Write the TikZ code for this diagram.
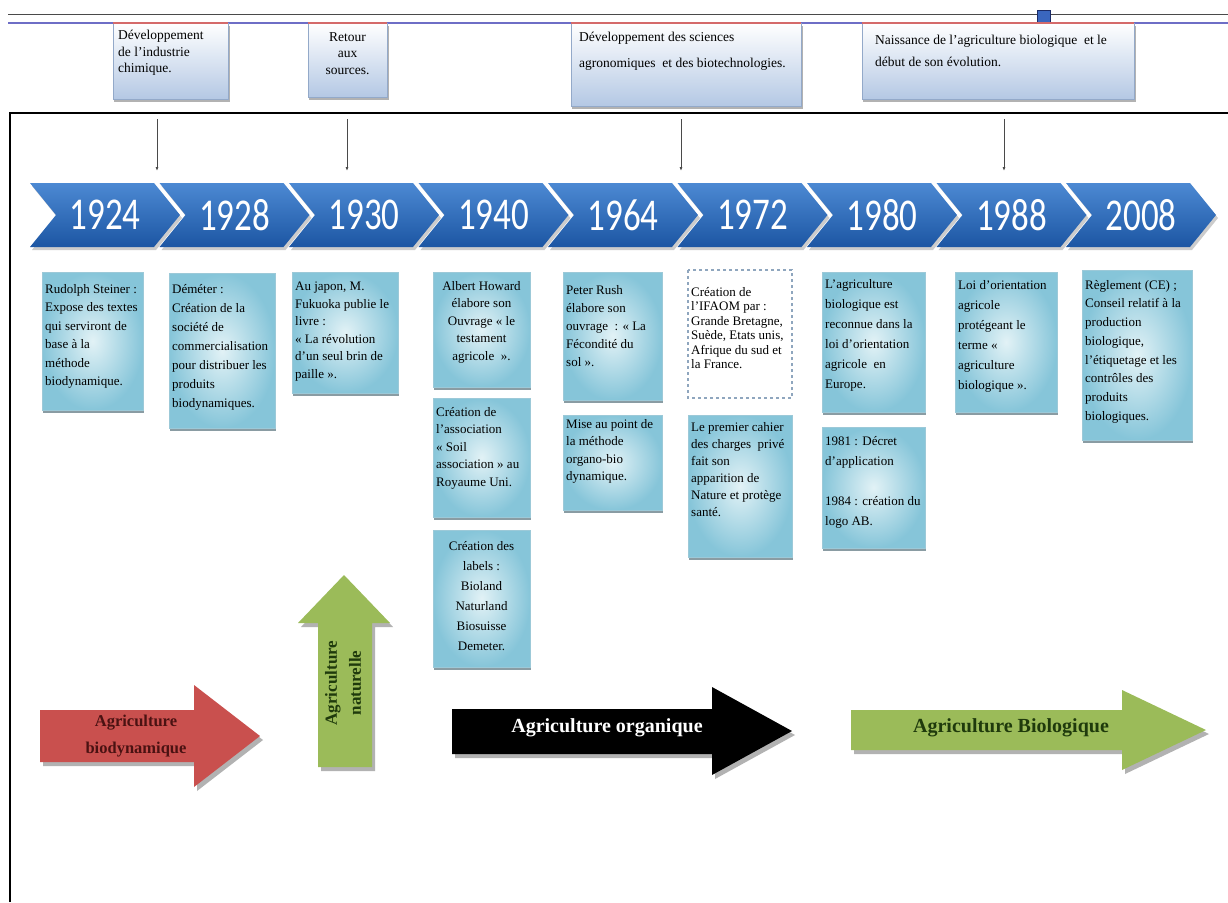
\documentclass[tikz,border=0pt]{standalone}
\usepackage{fontspec}
\usepackage{graphicx}
\setmainfont{Liberation Serif}
\newfontfamily\yearfont{Carlito}
\usetikzlibrary{arrows.meta}

\definecolor{chevtop}{HTML}{4C89D3}
\definecolor{chevbot}{HTML}{1C56A3}
\definecolor{boxin}{HTML}{E2F2F6}
\definecolor{boxout}{HTML}{86C5D9}
\definecolor{boxline}{HTML}{9CC9D8}
\definecolor{boxshadow}{HTML}{8A9CA3}
\definecolor{topbot}{HTML}{B4C8E4}
\definecolor{topline}{HTML}{93A9C9}
\definecolor{rulegray}{HTML}{4A4A4A}
\definecolor{ruleblue}{HTML}{6E6EC6}
\definecolor{rulered}{HTML}{D46A6A}
\definecolor{arrred}{HTML}{C9504E}
\definecolor{arrgreen}{HTML}{9BBB59}
\definecolor{txtred}{HTML}{4A1212}
\definecolor{txtgreen}{HTML}{1F3A0C}
\definecolor{sqblue}{HTML}{3A66BE}
\definecolor{sqedge}{HTML}{1B2B66}
\definecolor{dashline}{HTML}{8FA6BE}

% event box: shadow + radial cyan fill
\newcommand\infobox[4]{%
  \fill[boxshadow] (#1+1,#2+3) rectangle (#3+1,#4+3);
  \shadedraw[inner color=boxin,outer color=boxout,draw=boxline,line width=0.5pt] (#1,#2) rectangle (#3,#4);}
% period box: shadow + vertical gradient, red top edge
\newcommand\headbox[4]{%
  \fill[black!30] (#1+1,#2+3) rectangle (#3+2,#4+3);
  \shadedraw[top color=white,bottom color=topbot,draw=topline,line width=0.6pt] (#1,#2) rectangle (#3,#4);
  \draw[rulered,line width=1.2pt] (#1,#2) -- (#3,#2);}

\begin{document}
\begin{tikzpicture}[x=1pt,y=-1pt,
  btext/.style={font=\fontsize{13}{#1}\selectfont,align=left,inner sep=0pt,anchor=north west},
  btext/.default=18,
  ctext/.style={font=\fontsize{13}{#1}\selectfont,align=center,inner sep=0pt,anchor=north},
  ctext/.default=18,
  htext/.style={font=\fontsize{13.5}{#1}\selectfont,align=left,inner sep=0pt,anchor=north west},
  htext/.default=16.5,
  yearlbl/.style={text=white,font=\yearfont\fontsize{35}{35}\selectfont,inner sep=0pt},
  dropline/.style={-{Latex[length=4pt,width=3pt]},rulegray,line width=0.8pt},
  arrshadow/.style={fill=black!30},
]
\useasboundingbox (0,0) rectangle (1228,902);
\fill[white] (0,0) rectangle (1228,902);

% header rules and marker
\draw[rulegray,line width=1pt] (8,14) -- (1228,14);
\draw[ruleblue,line width=1.2pt] (8,23) -- (1228,23);
\filldraw[fill=sqblue,draw=sqedge,line width=0.8pt] (1037,10) rectangle (1050,23);

% period boxes
\headbox{113}{23}{228}{99}
\node[htext] (hA) at (118,30) {Développement\\de l'industrie\\chimique.};
\headbox{308}{23}{387}{97}
\node[htext,align=center,anchor=north] (hB) at (347.5,32) {Retour\\aux\\sources.};
\headbox{571}{23}{801}{106}
\node[htext=26] (hC) at (579,32) {Développement des sciences\\agronomiques\ \ et des biotechnologies.};
\headbox{862}{23}{1134}{99}
\node[htext=22] (hD) at (875,35) {Naissance de l'agriculture biologique\ \ et le\\début de son évolution.};

% frame
\draw[line width=2.5pt] (10,902) -- (10,113) -- (1228,113);

% timeline chevrons
\foreach \yr [count=\i from 0] in {1924,1928,1930,1940,1964,1972,1980,1988,2008} {
  \pgfmathsetmacro\xa{30+129.5*\i}
  \fill[black!20] (\xa+2,186) -- ++(124,0) -- ++(26,32) -- ++(-26,32) -- ++(-124,0) -- ++(26,-32) -- cycle;
  \shade[top color=chevtop,bottom color=chevbot] (\xa,183) -- ++(124,0) -- ++(26,32) -- ++(-26,32) -- ++(-124,0) -- ++(26,-32) -- cycle;
  \node[yearlbl] (yr\yr) at (\xa+75,215) {\scalebox{1}[1.3]{\yr}};
}

% pointers from the period boxes
\coordinate (pA0) at (157,119);  \coordinate (pA1) at (157,171);
\coordinate (pB0) at (347,119);  \coordinate (pB1) at (347,171);
\coordinate (pC0) at (681,119);  \coordinate (pC1) at (681,171);
\coordinate (pD0) at (1004,119); \coordinate (pD1) at (1004,171);
\draw[dropline] (pA0) -- (pA1);
\draw[dropline] (pB0) -- (pB1);
\draw[dropline] (pC0) -- (pC1);
\draw[dropline] (pD0) -- (pD1);

% event boxes
\infobox{42}{272}{143}{410}
\node[btext=18.5] (e1924) at (45,284) {Rudolph Steiner :\\Expose des textes\\qui serviront de\\base à la\\méthode\\biodynamique.};
\infobox{169}{273}{275}{428}
\node[btext=19] (e1928) at (172,284) {Déméter :\\Création de la\\société de\\commercialisation\\pour distribuer les\\produits\\biodynamiques.};
\infobox{292}{272}{398}{393}
\node[btext=17.5] (e1930) at (295,282) {Au japon, M.\\Fukuoka publie le\\livre :\\« La révolution\\d'un seul brin de\\paille ».};

\infobox{433}{272}{530}{387}
\node[ctext=17.5] (e1940a) at (481.5,281) {Albert Howard\\élabore son\\Ouvrage « le\\testament\\agricole\ \ ».};
\infobox{433}{398}{530}{517}
\node[btext=17.5] (e1940b) at (436,407) {Création de\\l'association\\« Soil\\association » au\\Royaume Uni.};
\infobox{433}{530}{530}{667}
\node[ctext=20] (e1940c) at (481.5,541) {Création des\\labels :\\Bioland\\Naturland\\Biosuisse\\Demeter.};

\infobox{563}{272}{662}{400}
\node[btext=18] (e1964a) at (566,285) {Peter Rush\\élabore son\\ouvrage\ \ : « La\\Fécondité du\\sol ».};
\infobox{563}{415}{662}{510}
\node[btext=17.5] (e1964b) at (566,419) {Mise au point de\\la méthode\\organo-bio\\dynamique.};

\draw[dashline,dashed,line width=1.2pt,fill=white] (688,270) rectangle (792,398);
\node[btext=14.5] (e1972a) at (691,287) {Création de\\l'IFAOM par :\\Grande Bretagne,\\Suède, Etats unis,\\Afrique du sud et\\la France.};
\infobox{688}{415}{792}{557}
\node[btext=17] (e1972b) at (691,422) {Le premier cahier\\des charges\ \ privé\\fait son\\apparition de\\Nature et protège\\santé.};

\infobox{822}{272}{925}{412}
\node[btext=20] (e1980a) at (825,279) {L'agriculture\\biologique est\\reconnue dans la\\loi d'orientation\\agricole\ \ en\\Europe.};
\infobox{822}{427}{925}{548}
\node[btext=20] (e1980b) at (825,436) {1981 : Décret\\d'application\\[20pt]1984 : création du\\logo AB.};

\infobox{955}{272}{1057}{412}
\node[btext=20] (e1988) at (958,280) {Loi d'orientation\\agricole\\protégeant le\\terme «\\agriculture\\biologique ».};

\infobox{1082}{270}{1192}{440}
\node[btext=18.7] (e2008) at (1085,280) {Règlement (CE) ;\\Conseil relatif à la\\production\\biologique,\\l'étiquetage et les\\contrôles des\\produits\\biologiques.};

% movement arrows
\fill[arrshadow] (43,714) -- (197,714) -- (197,689) -- (263,740) -- (197,791) -- (197,766) -- (43,766) -- cycle;
\fill[arrred] (40,710) -- (194,710) -- (194,685) -- (260,736) -- (194,787) -- (194,762) -- (40,762) -- cycle;
\node[font=\bfseries\fontsize{16.5}{27}\selectfont,text=txtred,align=center,inner sep=0pt] (mBio) at (136,736) {Agriculture\\biodynamique};

\fill[arrshadow] (321,771) -- (321,627) -- (301,627) -- (347,579) -- (393,627) -- (375,627) -- (375,771) -- cycle;
\fill[arrgreen] (318,767) -- (318,623) -- (298,623) -- (344,575) -- (390,623) -- (372,623) -- (372,767) -- cycle;
\node[font=\bfseries\fontsize{17}{24}\selectfont,text=txtgreen,align=center,inner sep=0pt,rotate=90] (mNat) at (343,683) {Agriculture\\naturelle};

\fill[arrshadow] (455,713) -- (715,713) -- (715,691) -- (795,735) -- (715,779) -- (715,758) -- (455,758) -- cycle;
\fill[black] (452,709) -- (712,709) -- (712,687) -- (792,731) -- (712,775) -- (712,754) -- (452,754) -- cycle;
\node[font=\bfseries\fontsize{20}{20}\selectfont,text=white,inner sep=0pt] (mOrg) at (607,728) {Agriculture organique};

\fill[arrshadow] (854,714) -- (1125,714) -- (1125,694) -- (1209,734) -- (1125,774) -- (1125,754) -- (854,754) -- cycle;
\fill[arrgreen] (851,710) -- (1122,710) -- (1122,690) -- (1206,730) -- (1122,770) -- (1122,750) -- (851,750) -- cycle;
\node[font=\bfseries\fontsize{20}{20}\selectfont,text=txtgreen,inner sep=0pt] (mAB) at (1011,728) {Agriculture Biologique};
\end{tikzpicture}
\end{document}
